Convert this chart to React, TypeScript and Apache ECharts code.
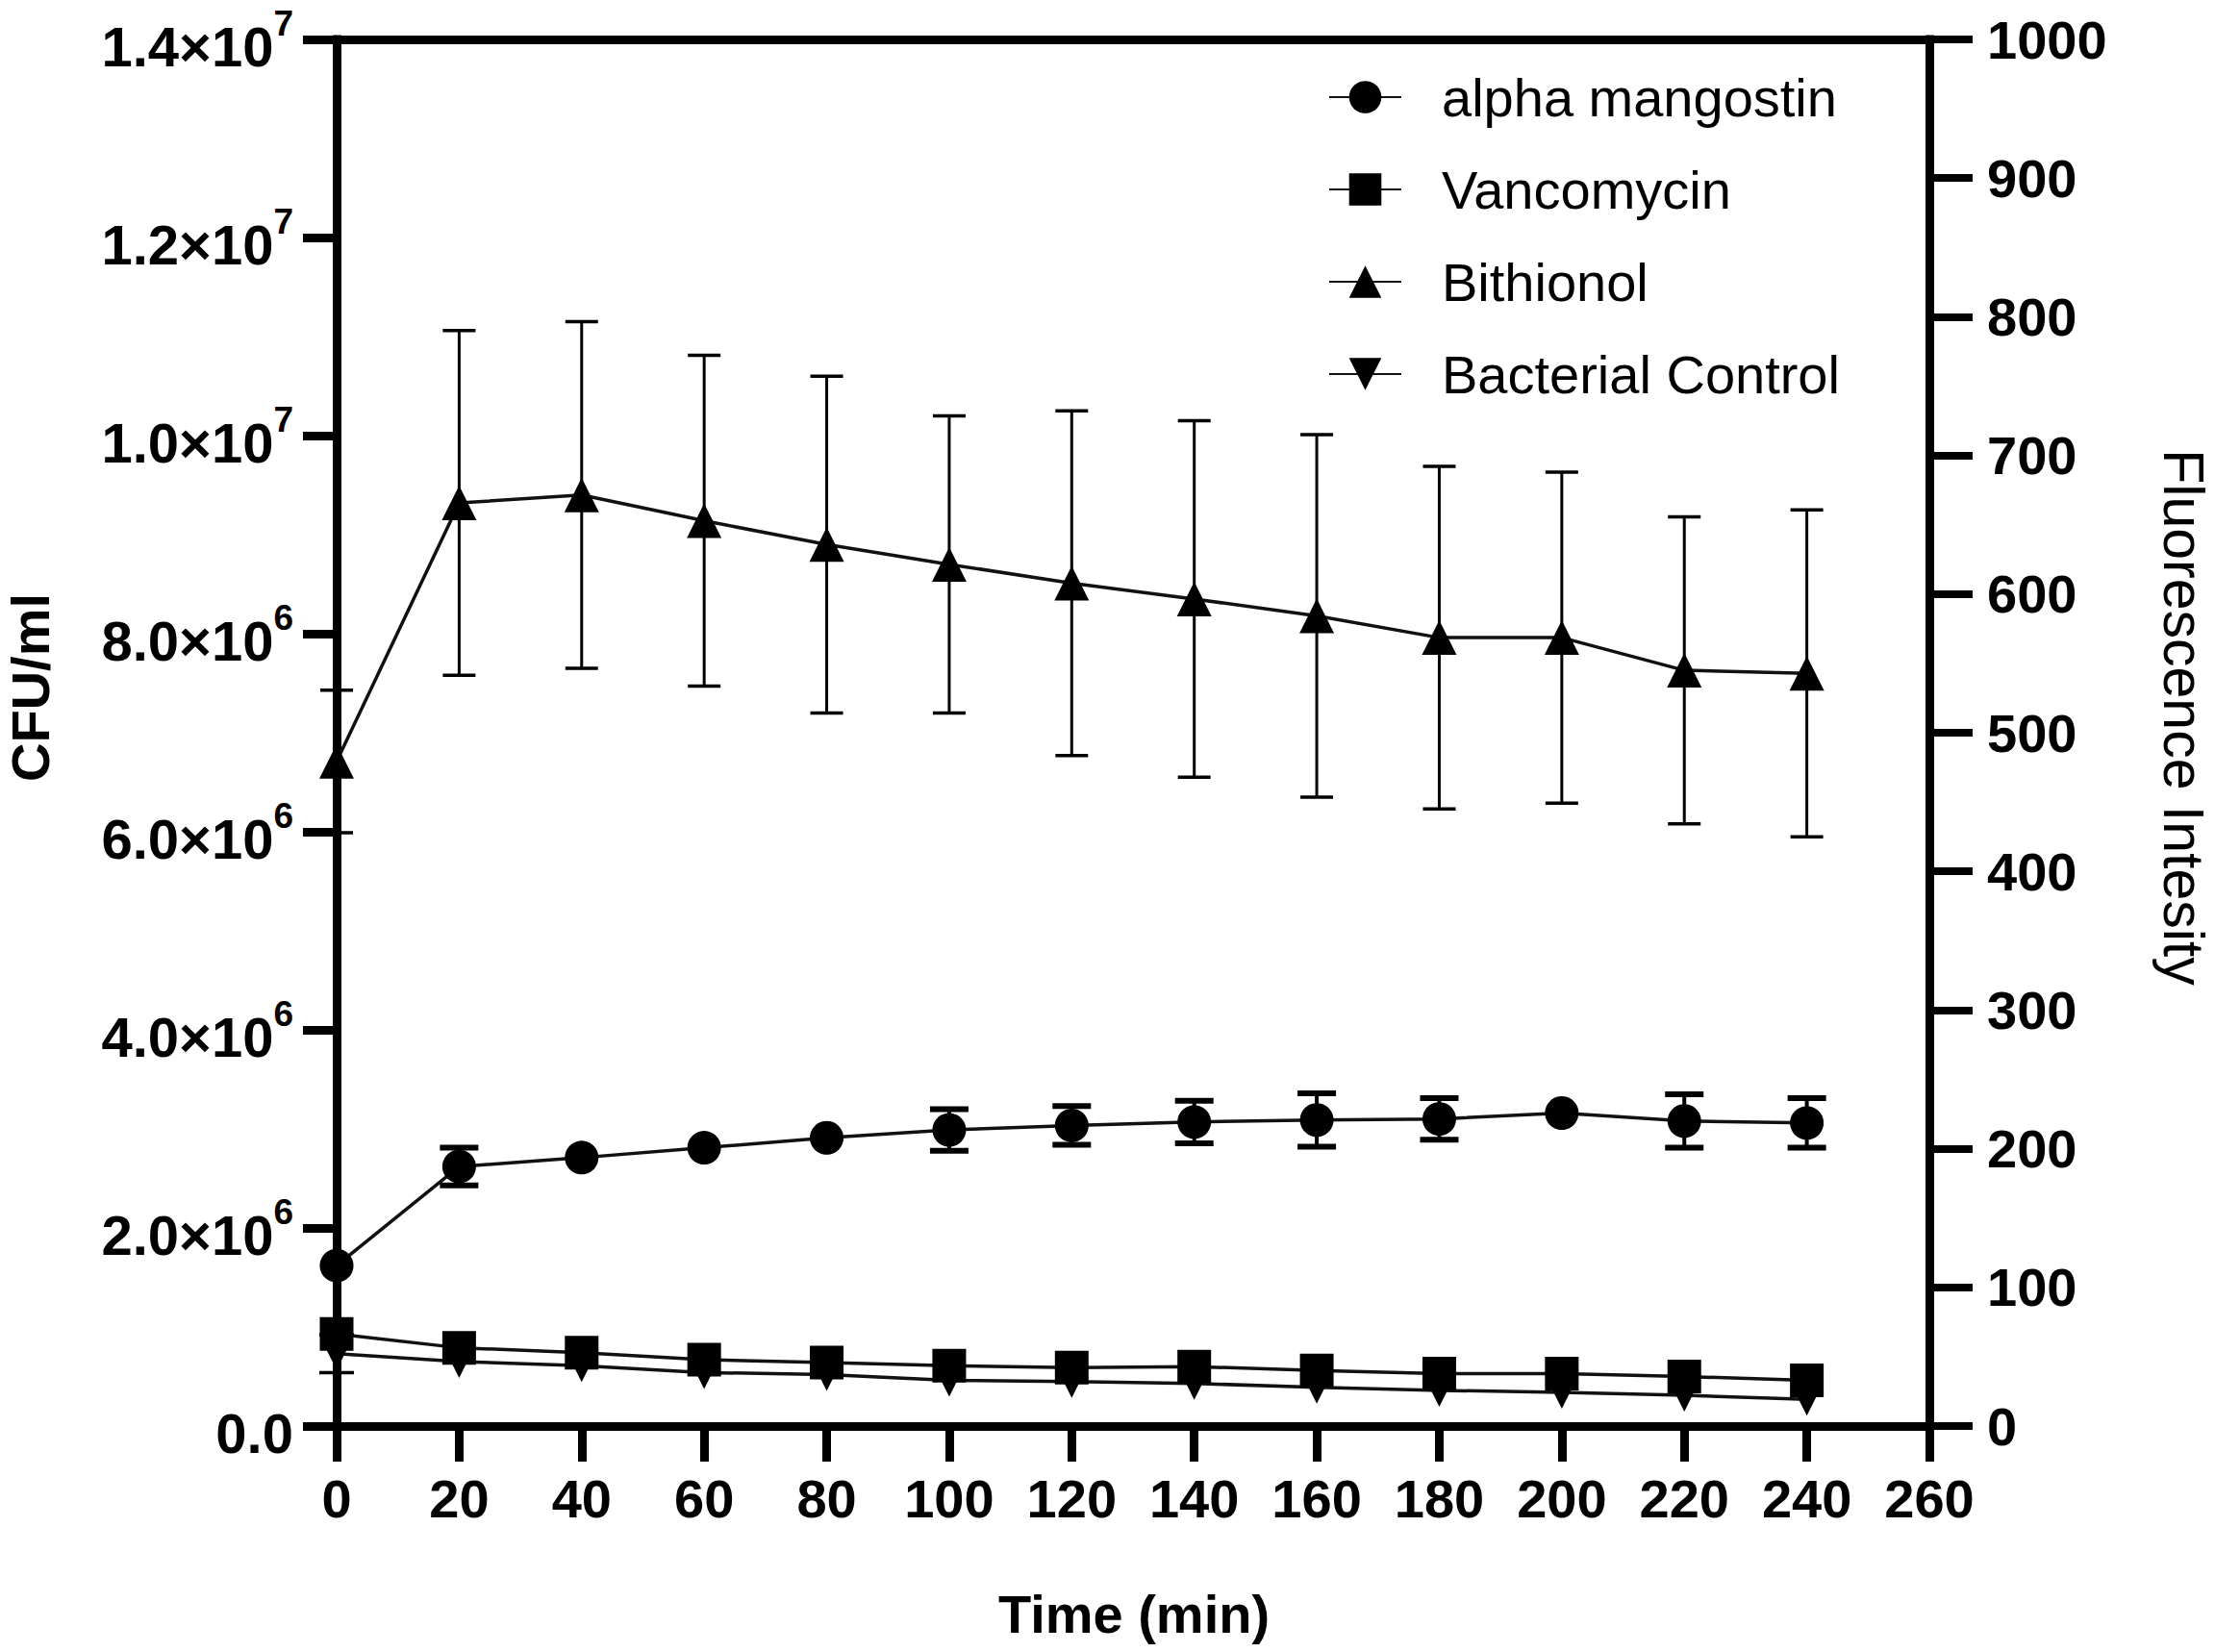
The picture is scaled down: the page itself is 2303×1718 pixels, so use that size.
import React, { useEffect, useRef } from "react";
import * as echarts from "echarts";

const timeMin = [0, 20, 40, 60, 80, 100, 120, 140, 160, 180, 200, 220, 240];

const alphaMangostin = [1.62e6, 2.62e6, 2.71e6, 2.81e6, 2.91e6, 2.99e6, 3.035e6, 3.07e6, 3.09e6, 3.1e6, 3.16e6, 3.08e6, 3.06e6];
const alphaMangostinSD = [0, 0.19e6, 0, 0, 0, 0.21e6, 0.195e6, 0.215e6, 0.27e6, 0.21e6, 0, 0.27e6, 0.25e6];

const vancomycin = [0.93e6, 0.79e6, 0.74e6, 0.67e6, 0.64e6, 0.61e6, 0.59e6, 0.6e6, 0.56e6, 0.53e6, 0.53e6, 0.5e6, 0.46e6];

const bithionol = [6.71e6, 9.32e6, 9.4e6, 9.14e6, 8.9e6, 8.7e6, 8.51e6, 8.35e6, 8.18e6, 7.96e6, 7.96e6, 7.63e6, 7.6e6];
const bithionolSD = [0.72e6, 1.74e6, 1.75e6, 1.67e6, 1.7e6, 1.5e6, 1.74e6, 1.8e6, 1.83e6, 1.73e6, 1.67e6, 1.55e6, 1.65e6];

const bacterialControl = [0.73e6, 0.65e6, 0.61e6, 0.54e6, 0.52e6, 0.46e6, 0.45e6, 0.43e6, 0.39e6, 0.36e6, 0.34e6, 0.31e6, 0.27e6];
const bacterialControlSD = [0.19e6, 0, 0, 0, 0, 0, 0, 0, 0, 0, 0, 0, 0];

const leftTickMantissa = ["0.0", "2.0", "4.0", "6.0", "8.0", "1.0", "1.2", "1.4"];
const leftTickExponent = ["", "6", "6", "6", "6", "7", "7", "7"];
const rightTickLabels = ["0", "100", "200", "300", "400", "500", "600", "700", "800", "900", "1000"];

const legendNames = ["alpha mangostin", "Vancomycin", "Bithionol", "Bacterial Control"];

const FONT = "'Liberation Sans', Arial, Helvetica, sans-serif";
const INK = "#000";
const LINE = "#111";

function pairs(values: number[]) {
  return timeMin.map((t, i) => [t, values[i]]);
}

function errorBars(name: string, means: number[], sds: number[], capHalf: number, lw: number, capW: number) {
  const data = timeMin
    .map((t, i) => [t, means[i] - sds[i], means[i] + sds[i], sds[i]])
    .filter((d) => d[3] > 0);
  return {
    name,
    type: "custom",
    xAxisIndex: 0,
    yAxisIndex: 0,
    z: 2,
    silent: true,
    encode: { x: 0, y: [1, 2] },
    data,
    renderItem: (params: any, api: any) => {
      const x = api.value(0);
      const lo = api.coord([x, api.value(1)]);
      const hi = api.coord([x, api.value(2)]);
      return {
        type: "group",
        children: [
          { type: "line", shape: { x1: lo[0], y1: lo[1], x2: hi[0], y2: hi[1] }, style: { stroke: INK, lineWidth: lw } },
          { type: "line", shape: { x1: lo[0] - capHalf, y1: lo[1], x2: lo[0] + capHalf, y2: lo[1] }, style: { stroke: INK, lineWidth: capW } },
          { type: "line", shape: { x1: hi[0] - capHalf, y1: hi[1], x2: hi[0] + capHalf, y2: hi[1] }, style: { stroke: INK, lineWidth: capW } },
        ],
      };
    },
  };
}

function lineSeries(name: string, values: number[], symbol: string, size: number, rotate = 0) {
  return {
    name,
    type: "line",
    xAxisIndex: 0,
    yAxisIndex: 0,
    z: 3,
    data: pairs(values),
    symbol,
    symbolSize: size,
    symbolRotate: rotate,
    showSymbol: true,
    showAllSymbol: true,
    lineStyle: { color: LINE, width: 3.5 },
    itemStyle: { color: INK, borderWidth: 0 },
    emphasis: { disabled: true },
  };
}

const axisLineStyle = { color: INK, width: 9, cap: "square" };

export default function App() {
  const ref = useRef<HTMLDivElement>(null);

  useEffect(() => {
    if (!ref.current) return;
    const chart = echarts.init(ref.current, undefined, { renderer: "svg" });
    const option: any = {
      animation: false,
      backgroundColor: "#fff",
      textStyle: { fontFamily: FONT, color: INK },
      grid: { left: 350, right: 297, top: 41, bottom: 235, containLabel: false },
      legend: {
        orient: "vertical",
        left: 1376,
        top: 68,
        itemWidth: 75,
        itemHeight: 42,
        itemGap: 40,
        selectedMode: false,
        data: legendNames,
        textStyle: { fontSize: 56, fontFamily: FONT, color: INK, lineHeight: 42, padding: [0, 0, 0, 37] },
      },
      xAxis: [
        {
          type: "value",
          position: "bottom",
          min: 0,
          max: 260,
          interval: 20,
          axisLine: { show: true, onZero: false, lineStyle: axisLineStyle },
          axisTick: { show: true, inside: false, length: 37, lineStyle: { color: INK, width: 9 } },
          axisLabel: {
            show: true,
            margin: 47,
            fontSize: 56,
            fontWeight: "bold",
            fontFamily: FONT,
            color: INK,
            showMinLabel: true,
            showMaxLabel: true,
          },
          splitLine: { show: false },
        },
        {
          type: "value",
          position: "top",
          min: 0,
          max: 260,
          interval: 20,
          axisLine: { show: true, onZero: false, lineStyle: axisLineStyle },
          axisTick: { show: false },
          axisLabel: { show: false },
          splitLine: { show: false },
        },
      ],
      yAxis: [
        {
          type: "value",
          position: "left",
          min: 0,
          max: 1.4e7,
          interval: 2e6,
          axisLine: { show: true, onZero: false, lineStyle: axisLineStyle },
          axisTick: { show: true, inside: false, length: 35, lineStyle: { color: INK, width: 9 } },
          axisLabel: {
            show: true,
            margin: 45,
            showMinLabel: true,
            showMaxLabel: true,
            formatter: (_v: number, i: number) =>
              leftTickExponent[i]
                ? `{b|${leftTickMantissa[i]}×10}{s|${leftTickExponent[i]}}`
                : `{b|${leftTickMantissa[i]}}`,
            rich: {
              b: { fontSize: 58, lineHeight: 72, fontWeight: "bold", fontFamily: FONT, color: INK, verticalAlign: "bottom" },
              s: { fontSize: 37, fontWeight: "bold", fontFamily: FONT, color: INK, verticalAlign: "bottom", padding: [0, 0, 34, 0] },
            },
          },
          splitLine: { show: false },
        },
        {
          type: "value",
          position: "right",
          min: 0,
          max: 1000,
          interval: 100,
          axisLine: { show: true, onZero: false, lineStyle: axisLineStyle },
          axisTick: { show: true, inside: false, length: 45, lineStyle: { color: INK, width: 8 } },
          axisLabel: {
            show: true,
            margin: 60,
            fontSize: 56,
            fontWeight: "bold",
            fontFamily: FONT,
            color: INK,
            showMinLabel: true,
            showMaxLabel: true,
            formatter: (_v: number, i: number) => rightTickLabels[i],
          },
          splitLine: { show: false },
        },
      ],
      graphic: [
        {
          type: "text",
          x: 31,
          y: 715,
          rotation: Math.PI / 2,
          style: {
            text: "CFU/ml",
            fontSize: 56,
            fontWeight: "bold",
            fontFamily: FONT,
            fill: INK,
            textAlign: "center",
            textVerticalAlign: "middle",
            align: "center",
            verticalAlign: "middle",
          },
        },
        {
          type: "text",
          x: 2270,
          y: 746,
          rotation: -Math.PI / 2,
          style: {
            text: "Fluorescence Intesity",
            fontSize: 59,
            fontWeight: "normal",
            fontFamily: FONT,
            fill: INK,
            textAlign: "center",
            textVerticalAlign: "middle",
            align: "center",
            verticalAlign: "middle",
          },
        },
        {
          type: "text",
          x: 1179,
          y: 1678,
          style: {
            text: "Time (min)",
            fontSize: 56,
            fontWeight: "bold",
            fontFamily: FONT,
            fill: INK,
            textAlign: "center",
            textVerticalAlign: "middle",
            align: "center",
            verticalAlign: "middle",
          },
        },
      ],
      series: [
        errorBars("err-bithionol", bithionol, bithionolSD, 17, 3, 3.5),
        errorBars("err-alpha", alphaMangostin, alphaMangostinSD, 20, 4, 6),
        errorBars("err-control", bacterialControl, bacterialControlSD, 18, 3, 3.5),
        lineSeries("Bacterial Control", bacterialControl, "triangle", 34, 180),
        lineSeries("Bithionol", bithionol, "triangle", 36),
        lineSeries("Vancomycin", vancomycin, "rect", 35),
        lineSeries("alpha mangostin", alphaMangostin, "circle", 35),
      ],
    };
    chart.setOption(option);
    return () => chart.dispose();
  }, []);

  return (
    <div
      ref={ref}
      style={{ position: "fixed", left: 0, top: 0, width: 2303, height: 1718, background: "#fff" }}
    />
  );
}
